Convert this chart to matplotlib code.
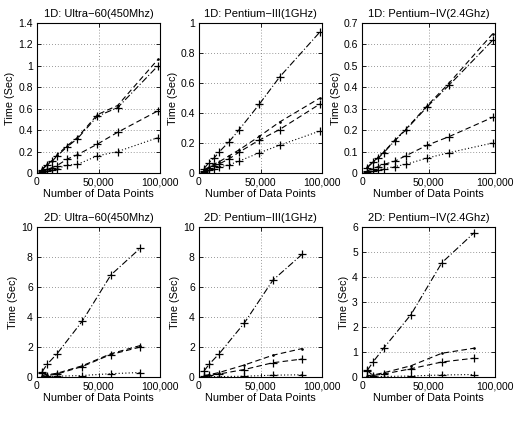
import matplotlib
matplotlib.use("Agg")
import matplotlib.pyplot as plt
from matplotlib.ticker import FuncFormatter

plt.rcParams['font.family'] = ['Liberation Sans', 'DejaVu Sans']

# ---- data ----
x_1d = [4096, 8192, 12288, 16384, 24576, 32768, 49152, 65536, 98304]
x_2d = [4096, 8281, 16384, 36864, 60025, 84100]

titles = ["1D: Ultra\u221260(450Mhz)", "1D: Pentium\u2212III(1GHz)", "1D: Pentium\u2212IV(2.4Ghz)",
          "2D: Ultra\u221260(450Mhz)", "2D: Pentium\u2212III(1GHz)", "2D: Pentium\u2212IV(2.4Ghz)"]

# 1D Ultra-60
u1_s1 = [0.03, 0.075, 0.11, 0.16, 0.245, 0.32, 0.53, 0.61, 1.00]
u1_s2 = [0.035, 0.08, 0.115, 0.17, 0.255, 0.33, 0.545, 0.63, 1.06]
u1_s3 = [0.015, 0.035, 0.05, 0.07, 0.13, 0.17, 0.27, 0.38, 0.58]
u1_s4 = [0.01, 0.02, 0.03, 0.04, 0.075, 0.08, 0.16, 0.20, 0.33]
# 1D Pentium-III
p31_s1 = [0.03, 0.07, 0.10, 0.14, 0.21, 0.29, 0.46, 0.64, 0.94]
p31_s2 = [0.02, 0.04, 0.06, 0.075, 0.115, 0.155, 0.245, 0.34, 0.50]
p31_s3 = [0.015, 0.035, 0.05, 0.06, 0.095, 0.14, 0.22, 0.29, 0.46]
p31_s4 = [0.01, 0.02, 0.03, 0.04, 0.055, 0.08, 0.135, 0.185, 0.28]
# 1D Pentium-IV
p41_s1 = [0.025, 0.05, 0.07, 0.095, 0.15, 0.20, 0.31, 0.41, 0.62]
p41_s2 = [0.027, 0.052, 0.073, 0.098, 0.153, 0.203, 0.315, 0.42, 0.65]
p41_s3 = [0.01, 0.02, 0.03, 0.04, 0.055, 0.08, 0.13, 0.17, 0.26]
p41_s4 = [0.005, 0.01, 0.015, 0.02, 0.03, 0.04, 0.07, 0.095, 0.14]
# 2D Ultra-60
u2_s1 = [0.35, 0.85, 1.56, 3.73, 6.8, 8.6]
u2_s2 = [0.1, 0.15, 0.25, 0.75, 1.55, 2.1]
u2_s3 = [0.3, 0.1, 0.2, 0.7, 1.5, 2.0]
u2_s4 = [0.02, 0.03, 0.05, 0.1, 0.22, 0.3]
# 2D Pentium-III
p32_s1 = [0.4, 0.85, 1.55, 3.6, 6.45, 8.2]
p32_s2 = [0.1, 0.15, 0.3, 0.8, 1.45, 1.9]
p32_s3 = [0.05, 0.12, 0.2, 0.5, 0.95, 1.2]
p32_s4 = [0.01, 0.02, 0.03, 0.05, 0.12, 0.15]
# 2D Pentium-IV
p42_s1 = [0.27, 0.6, 1.16, 2.5, 4.57, 5.76]
p42_s2 = [0.05, 0.08, 0.17, 0.45, 0.95, 1.15]
p42_s3 = [0.25, 0.06, 0.12, 0.33, 0.6, 0.75]
p42_s4 = [0.005, 0.01, 0.02, 0.04, 0.08, 0.1]

panels = [
    (x_1d, [u1_s1, u1_s2, u1_s3, u1_s4], 1.4, 0.2),
    (x_1d, [p31_s1, p31_s2, p31_s3, p31_s4], 1.0, 0.2),
    (x_1d, [p41_s1, p41_s2, p41_s3, p41_s4], 0.7, 0.1),
    (x_2d, [u2_s1, u2_s2, u2_s3, u2_s4], 10, 2),
    (x_2d, [p32_s1, p32_s2, p32_s3, p32_s4], 10, 2),
    (x_2d, [p42_s1, p42_s2, p42_s3, p42_s4], 6, 1),
]

styles = [dict(ls=(0, (6, 2, 1, 2)), marker='+'), dict(ls=(0, (5, 3)), marker='.'),
          dict(ls=(0, (5, 3)), marker='+'), dict(ls=(0, (1, 2)), marker='+')]

W, H = 516, 430
fig = plt.figure(figsize=(W / 100, H / 100), dpi=100)

cols = [(37, 160), (199, 322), (362, 495)]
rows = [(23, 173), (227, 377)]

xfmt = FuncFormatter(lambda v, p: f"{int(v):,}")
yfmt = FuncFormatter(lambda v, p: f"{v:g}")

for i, (xs, series, ymax, ystep) in enumerate(panels):
    r, c = divmod(i, 3)
    x0, x1 = cols[c]
    y0, y1 = rows[r]
    ax = fig.add_axes([x0 / W, 1 - y1 / H, (x1 - x0) / W, (y1 - y0) / H])
    for ys, st in zip(series, styles):
        ax.plot(xs, ys, color='black', lw=0.8, ls=st['ls'], marker=st['marker'],
                markersize=6 if st['marker'] == '+' else 2, mew=0.9)
    ax.set_xlim(0, 100000)
    ax.set_ylim(0, ymax)
    ax.set_xticks([0, 50000, 100000])
    n = int(round(ymax / ystep))
    ax.set_yticks([k * ystep for k in range(n + 1)])
    ax.xaxis.set_major_formatter(xfmt)
    ax.yaxis.set_major_formatter(yfmt)
    ax.grid(True, ls=(0, (1, 2.5)), color='#777777', lw=0.6)
    ax.tick_params(direction='in', length=3, labelsize=7.5, top=True, right=True, width=0.6, pad=3)
    for s in ax.spines.values():
        s.set_linewidth(0.8)
    ax.set_title(titles[i], fontsize=8, pad=4)
    ax.set_xlabel("Number of Data Points", fontsize=7.8, labelpad=1.5)
    ax.set_ylabel("Time (Sec)", fontsize=7.8, labelpad=2)

fig.savefig("out.png", dpi=100)
